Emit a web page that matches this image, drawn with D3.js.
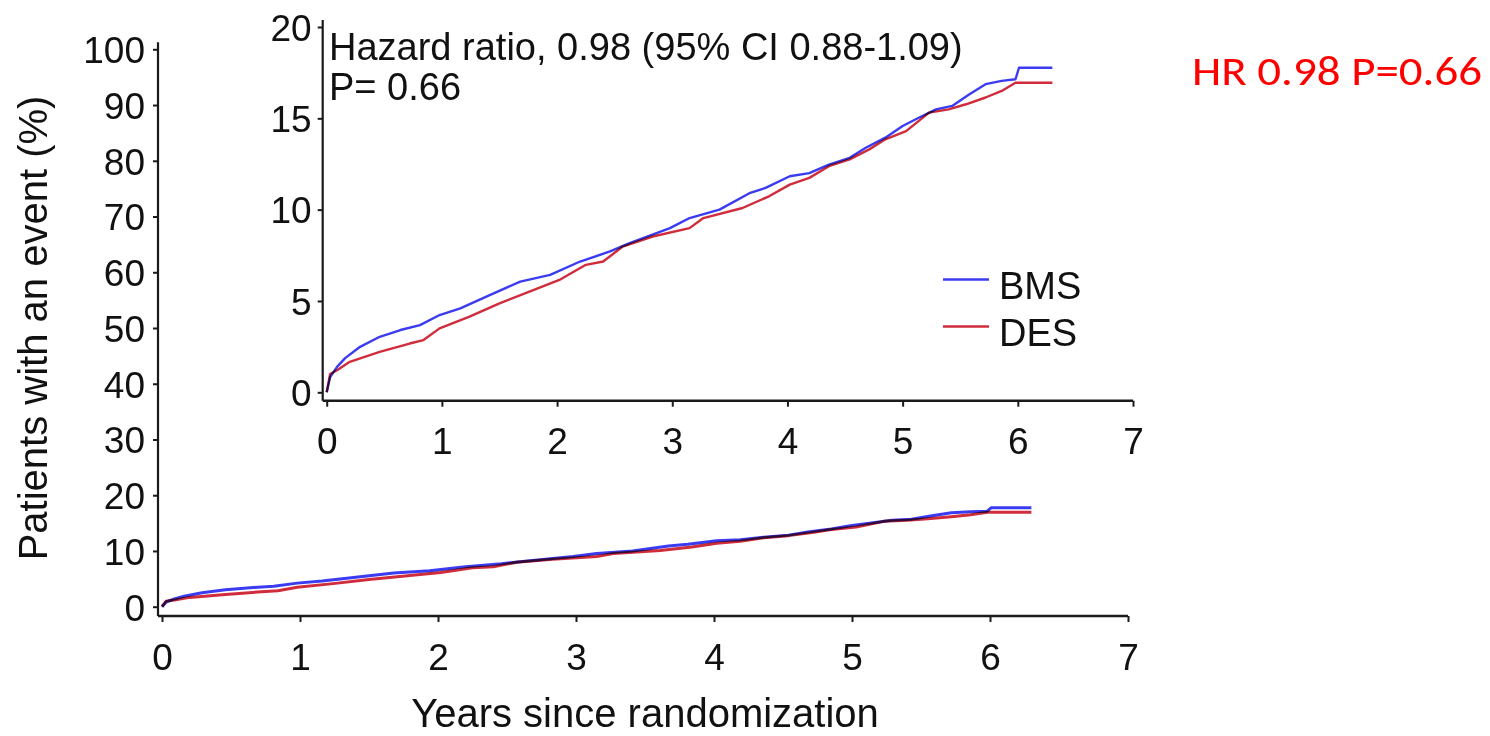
<!DOCTYPE html>
<html>
<head>
<meta charset="utf-8">
<script src="https://cdn.jsdelivr.net/npm/d3@7"></script>
<style>
  html, body { margin: 0; padding: 0; background: #fff; }
  svg { display: block; }
  text { font-family: "Liberation Sans", Arial, Helvetica, sans-serif; fill: #111; }
</style>
</head>
<body>
<svg id="chart" width="1490" height="736"></svg>
<script>
// Kaplan-Meier cumulative event curves (years since randomization, % with event)
const bmsYears = [0, 0.03, 0.09, 0.16, 0.29, 0.46, 0.64, 0.81, 0.98, 1.16, 1.42, 1.68, 1.94, 2.2, 2.46, 2.63, 2.98, 3.15, 3.41, 3.67, 3.81, 4.02, 4.19, 4.36, 4.54, 4.68, 4.85, 5.0, 5.14, 5.29, 5.43, 5.58, 5.72, 5.86, 5.98, 6.01, 6.3];
const bmsEvents = [0, 0.84, 1.39, 1.87, 2.49, 3.04, 3.41, 3.68, 4.23, 4.6, 5.33, 6.06, 6.43, 7.16, 7.71, 8.17, 8.99, 9.54, 10.0, 10.9, 11.19, 11.83, 12.0, 12.47, 12.84, 13.39, 13.94, 14.58, 15.03, 15.49, 15.68, 16.32, 16.87, 17.05, 17.14, 17.77, 17.77];

const desYears = [0, 0.03, 0.09, 0.2, 0.46, 0.72, 0.84, 0.98, 1.24, 1.5, 1.76, 2.02, 2.25, 2.4, 2.57, 2.83, 3.15, 3.27, 3.61, 3.84, 4.02, 4.19, 4.36, 4.54, 4.71, 4.85, 5.03, 5.23, 5.4, 5.55, 5.72, 5.86, 5.98, 6.3];
const desEvents = [0, 1.0, 1.21, 1.67, 2.21, 2.67, 2.86, 3.5, 4.14, 4.87, 5.51, 6.15, 6.98, 7.16, 7.98, 8.53, 8.99, 9.54, 10.09, 10.73, 11.37, 11.74, 12.38, 12.75, 13.3, 13.85, 14.3, 15.31, 15.49, 15.77, 16.14, 16.5, 16.95, 16.95];

const seriesNames = ["BMS", "DES"];
const seriesColors = ["#3b3bf2", "#d02c3c"];

const yearTicks = [0, 1, 2, 3, 4, 5, 6, 7];
const mainPctTicks = [0, 10, 20, 30, 40, 50, 60, 70, 80, 90, 100];
const insetPctTicks = [0, 5, 10, 15, 20];

const hazardLines = ["Hazard ratio, 0.98 (95% CI 0.88-1.09)", "P= 0.66"];
const hrNote = "HR 0.98 P=0.66";
const xTitle = "Years since randomization";
const yTitle = "Patients with an event (%)";

const series = [
  { name: seriesNames[0], color: seriesColors[0], pts: bmsYears.map((t, i) => [t, bmsEvents[i]]) },
  { name: seriesNames[1], color: seriesColors[1], pts: desYears.map((t, i) => [t, desEvents[i]]) }
];

const svg = d3.select("#chart");
const axisColor = "#1a1a1a";
const intFmt = d3.format("d");

function drawPanel(g, cfg) {
  const { x, y, yTicks, tickFont, axisX, axisY, lineWidth, labelGapY, labelBaseX } = cfg;

  // axis lines: left axis offset from first x tick, bottom axis below y=0
  g.append("line")
    .attr("x1", axisX).attr("x2", axisX)
    .attr("y1", y(y.domain()[1]) - 7).attr("y2", axisY)
    .attr("stroke", axisColor).attr("stroke-width", 2.2);
  g.append("line")
    .attr("x1", axisX).attr("x2", x(x.domain()[1]))
    .attr("y1", axisY).attr("y2", axisY)
    .attr("stroke", axisColor).attr("stroke-width", 2.4);

  // y ticks
  const yAxis = g.append("g").attr("transform", `translate(${axisX},0)`)
    .call(d3.axisLeft(y).tickValues(yTicks).tickFormat(intFmt).tickSize(5).tickPadding(labelGapY).tickSizeOuter(0));
  yAxis.select(".domain").remove();
  yAxis.selectAll(".tick line").attr("stroke", axisColor).attr("stroke-width", 2);
  yAxis.selectAll(".tick text").attr("fill", "#111").style("font-size", tickFont + "px")
    .style("font-family", '"Liberation Sans", Arial, sans-serif').attr("dy", "0.36em");

  // x ticks
  const xAxis = g.append("g").attr("transform", `translate(0,${axisY})`)
    .call(d3.axisBottom(x).tickValues(yearTicks).tickFormat(intFmt).tickSize(6).tickPadding(0).tickSizeOuter(0));
  xAxis.select(".domain").remove();
  xAxis.selectAll(".tick line").attr("stroke", axisColor).attr("stroke-width", 2);
  xAxis.selectAll(".tick text").attr("fill", "#111").style("font-size", tickFont + "px")
    .style("font-family", '"Liberation Sans", Arial, sans-serif')
    .attr("y", labelBaseX).attr("dy", null);

  // curves (multiplied so overlapping stretches read as dark purple)
  const line = d3.line().x(d => x(d[0])).y(d => y(d[1])).curve(d3.curveLinear);
  const curves = g.append("g").style("isolation", "isolate");
  series.forEach((s) => {
    curves.append("path")
      .datum(s.pts)
      .attr("d", line)
      .attr("fill", "none")
      .attr("stroke", s.color)
      .attr("stroke-width", lineWidth)
      .attr("stroke-linejoin", "round")
      .style("mix-blend-mode", "multiply");
  });
}

// ---- main panel (0-100 %) ----
const xMain = d3.scaleLinear().domain([0, 7]).range([162, 1128]);
const yMain = d3.scaleLinear().domain([0, 100]).range([606.7, 49.3]);
const gMain = svg.append("g");
drawPanel(gMain, {
  x: xMain, y: yMain, yTicks: mainPctTicks, tickFont: 37,
  axisX: 158, axisY: 616, lineWidth: 3, labelGapY: 8, labelBaseX: 54
});

// ---- inset panel (0-20 %) ----
const xIn = d3.scaleLinear().domain([0, 7]).range([326.7, 1133]);
const yIn = d3.scaleLinear().domain([0, 20]).range([392.3, 27]);
const gIn = svg.append("g");
drawPanel(gIn, {
  x: xIn, y: yIn, yTicks: insetPctTicks, tickFont: 37,
  axisX: 322.7, axisY: 400.7, lineWidth: 2.4, labelGapY: 6, labelBaseX: 53.5
});

// hazard ratio annotation inside the inset
gIn.selectAll("text.hr")
  .data(hazardLines)
  .join("text")
  .attr("class", "hr")
  .attr("x", 329)
  .attr("y", (d, i) => 60 + i * 40)
  .style("font-size", "38px")
  .text(d => d);

// legend
const legend = gIn.append("g");
series.forEach((s, i) => {
  const ly = 279.5 + i * 47;
  legend.append("line")
    .attr("x1", 943).attr("x2", 989)
    .attr("y1", ly).attr("y2", ly)
    .attr("stroke", s.color).attr("stroke-width", 2.6);
  legend.append("text")
    .attr("x", 999).attr("y", ly + 19)
    .style("font-size", "38px")
    .text(s.name);
});

// axis titles
svg.append("text")
  .attr("x", (xMain(0) + xMain(7)) / 2)
  .attr("y", 727)
  .attr("text-anchor", "middle")
  .style("font-size", "40px")
  .text(xTitle);

svg.append("text")
  .attr("transform", `translate(47,${(yMain(0) + yMain(100)) / 2}) rotate(-90)`)
  .attr("text-anchor", "middle")
  .style("font-size", "40px")
  .text(yTitle);

// summary note
svg.append("text")
  .attr("x", 1192)
  .attr("y", 85)
  .attr("textLength", 290)
  .attr("lengthAdjust", "spacingAndGlyphs")
  .style("font-family", "Carlito, Calibri, Lato, sans-serif")
  .style("font-size", "42px")
  .style("fill", "#ff0000")
  .text(hrNote);
</script>
</body>
</html>
